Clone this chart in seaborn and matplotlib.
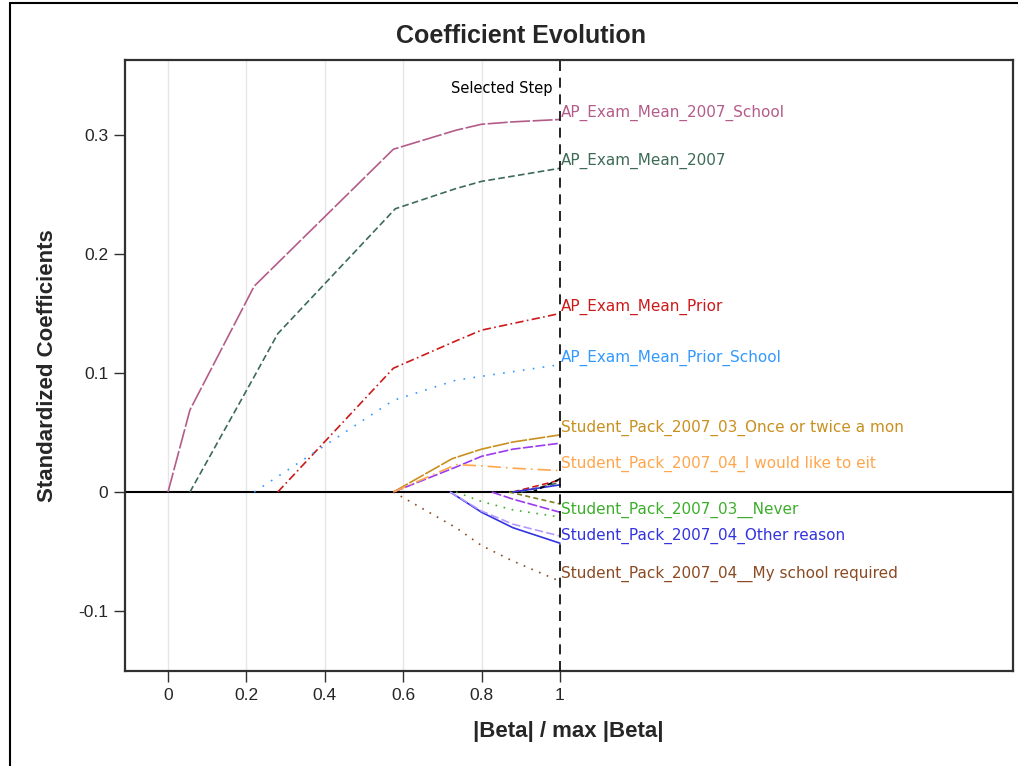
import numpy as np
import pandas as pd
import matplotlib
matplotlib.use("Agg")
import matplotlib.pyplot as plt
import seaborn as sns
from matplotlib.patches import Rectangle

# --- coefficient paths (x = |Beta| / max |Beta|) ---
names = [
    "AP_Exam_Mean_2007_School", "AP_Exam_Mean_2007", "AP_Exam_Mean_Prior",
    "AP_Exam_Mean_Prior_School", "Student_Pack_2007_03_Once or twice a mon",
    "p6", "Student_Pack_2007_04_I would like to eit",
    "Student_Pack_2007_04__My school required", "Student_Pack_2007_04_Other reason",
    "p10", "Student_Pack_2007_03__Never", "p12", "p13", "p14", "p15", "p16", "p17",
]
labeled = [True, True, True, True, True, False, True, True, True,
           False, True, False, False, False, False, False, False]

xs = [
    [0, 0.056, 0.22, 0.575, 0.735, 0.80, 0.88, 1.0],
    [0.056, 0.22, 0.28, 0.58, 0.735, 0.80, 1.0],
    [0.28, 0.575, 0.735, 0.80, 1.0],
    [0.22, 0.28, 0.575, 0.735, 1.0],
    [0.575, 0.725, 0.80, 0.88, 1.0],
    [0.575, 0.735, 0.80, 0.88, 1.0],
    [0.575, 0.735, 0.80, 0.88, 1.0],
    [0.575, 0.735, 0.80, 0.88, 1.0],
    [0.72, 0.80, 0.88, 1.0],
    [0.72, 0.80, 0.88, 1.0],
    [0.735, 0.80, 0.88, 1.0],
    [0.826, 0.88, 1.0],
    [0.87, 1.0],
    [0.88, 1.0],
    [0.90, 1.0],
    [0.88, 1.0],
    [0.93, 1.0],
]
ys = [
    [0, 0.069, 0.173, 0.288, 0.304, 0.309, 0.311, 0.313],
    [0, 0.097, 0.133, 0.238, 0.255, 0.261, 0.272],
    [0, 0.104, 0.127, 0.136, 0.150],
    [0, 0.013, 0.077, 0.094, 0.107],
    [0, 0.028, 0.036, 0.042, 0.048],
    [0, 0.021, 0.030, 0.036, 0.041],
    [0, 0.023, 0.022, 0.020, 0.018],
    [0, -0.030, -0.045, -0.058, -0.075],
    [0, -0.017, -0.030, -0.043],
    [0, -0.016, -0.027, -0.037],
    [0, -0.008, -0.015, -0.021],
    [0, -0.006, -0.017],
    [0, -0.010],
    [0, 0.010],
    [0, 0.008],
    [0, 0.006],
    [0, 0.011],
]
colors = ["#B35C8A", "#3D6B57", "#CC1A1A", "#3399FF", "#C8901E", "#9B3BF0",
          "#FFA64D", "#8B4A22", "#3333E0", "#B399FF", "#3DAE2B", "#9B3BF0",
          "#808020", "#CC1A1A", "#3D6B57", "#3333E0", "#000000"]
dash_styles = [(12, 1.5), (4, 2), (5, 2, 1, 2), (1, 5), (10, 1), (6, 1.5),
               (8, 3, 1, 3), (1, 4), "", (5, 2), (1, 4), (6, 1.5),
               (3, 2), (4, 2), (4, 2), "", (3, 2)]

rows = []
for n, xv, yv in zip(names, xs, ys):
    for a, b in zip(xv, yv):
        rows.append((n, a, b))
df = pd.DataFrame(rows, columns=["var", "x", "coef"])

sns.set_style("white")
plt.rcParams["font.family"] = ["Liberation Sans", "DejaVu Sans"]

fig = plt.figure(figsize=(10.18, 7.66), dpi=100)
ax = fig.add_axes([0.1228, 0.124, 0.8723, 0.7977])

for t in [0, 0.2, 0.4, 0.6, 0.8]:
    ax.axvline(t, color="#E6E6E6", lw=1, zorder=0)
ax.axhline(0, color="black", lw=1.5, zorder=1)

sns.lineplot(data=df, x="x", y="coef", hue="var", style="var",
             palette=dict(zip(names, colors)), dashes=dict(zip(names, dash_styles)),
             hue_order=names, style_order=names, legend=False, lw=1.2,
             estimator=None, sort=False, ax=ax, zorder=2)

ax.axvline(1.0, color="black", lw=1.2, ls=(0, (6, 4)), zorder=3)
ax.text(0.982, 0.3387, "Selected Step", ha="right", va="center",
        fontsize=10.5, family="DejaVu Sans", color="black")

for n, yv, c, lab in zip(names, ys, colors, labeled):
    if lab:
        ax.annotate(n, (1.0, yv[-1]), xytext=(1, 5), textcoords="offset points",
                    ha="left", va="center", fontsize=11,
                    family="DejaVu Sans", color=c)

ax.set_xlim(-0.1097, 2.156)
ax.set_ylim(-0.1504, 0.363)
ax.set_xticks([0, 0.2, 0.4, 0.6, 0.8, 1])
ax.set_xticklabels(["0", "0.2", "0.4", "0.6", "0.8", "1"])
ax.set_yticks([-0.1, 0, 0.1, 0.2, 0.3])
ax.set_yticklabels(["-0.1", "0", "0.1", "0.2", "0.3"])
ax.tick_params(axis="both", direction="out", length=8, width=1,
               labelsize=12.5, color="#303030", pad=4, bottom=True, left=True)
for s in ax.spines.values():
    s.set_color("#303030")
    s.set_linewidth(1.6)

ax.set_xlabel("|Beta| / max |Beta|", fontsize=16, fontweight="bold")
ax.xaxis.set_label_coords((568 - 125) / 888, -(721 - 671) / 611)
ax.set_ylabel("Standardized Coefficients", fontsize=16, fontweight="bold")
ax.yaxis.set_label_coords(-(125 - 58) / 888, 0.5)
fig.text(0.512, 0.953, "Coefficient Evolution", ha="center", va="center",
         fontsize=18, fontweight="bold")

fig.add_artist(Rectangle((10 / 1018, -0.05), 1.2, 1.05 - 3 / 766, fill=False,
                         edgecolor="black", lw=1.5, transform=fig.transFigure))

fig.savefig("out.png", dpi=100)
